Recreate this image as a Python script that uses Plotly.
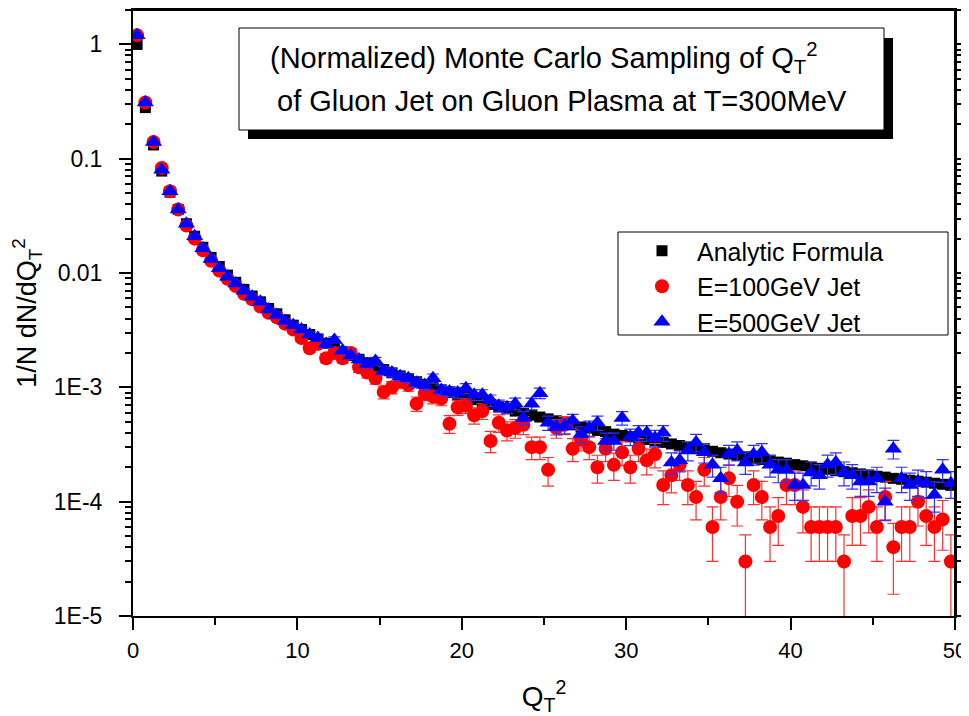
import plotly.graph_objects as go
import numpy as np

# bin centres of Q_T^2
q2 = [0.25 + 0.5 * i for i in range(100)]

analytic = [
    1.0, 0.28, 0.132, 0.078, 0.051, 0.036, 0.027, 0.021, 0.0168, 0.0137,
    0.0114, 0.0096, 0.0083, 0.0072, 0.0063, 0.0056, 0.0049, 0.0044, 0.0039, 0.0035,
    0.0032, 0.0029, 0.00265, 0.00243, 0.00223, 0.00205, 0.0019, 0.00176, 0.00164, 0.00153,
    0.00143, 0.00134, 0.00126, 0.00119, 0.00112, 0.00106, 0.0010, 0.00095, 0.0009, 0.00086,
    0.00082, 0.00078, 0.00074, 0.00071, 0.00068, 0.00065, 0.00062, 0.00059, 0.00057, 0.00055,
    0.00053, 0.00051, 0.00049, 0.00047, 0.00045, 0.00044, 0.00042, 0.00041, 0.00039, 0.00038,
    0.00037, 0.00036, 0.00035, 0.00034, 0.00033, 0.00032, 0.00031, 0.000300, 0.000292, 0.000284,
    0.000276, 0.000268, 0.000261, 0.000254, 0.000247, 0.000240, 0.000234, 0.000228, 0.000222, 0.000217,
    0.000211, 0.000206, 0.000201, 0.000196, 0.000192, 0.000187, 0.000183, 0.000179, 0.000175, 0.000171,
    0.000167, 0.000164, 0.000160, 0.000157, 0.000154, 0.000151, 0.000148, 0.000145, 0.000142, 0.000139,
]

jet100 = [
    1.2, 0.31, 0.14, 0.083, 0.052, 0.036, 0.026, 0.020, 0.0158, 0.0128,
    0.0105, 0.0089, 0.0077, 0.0066, 0.0059, 0.0051, 0.0045, 0.0041, 0.0036, 0.0032,
    0.0027, 0.0022, 0.0024, 0.0018, 0.0020, 0.0018, 0.0020, 0.0015, 0.00135, 0.0012,
    0.00091, 0.0010, 0.00112, 0.00105, 0.00072, 0.00088, 0.00083, 0.00080, 0.00048, 0.00067,
    0.00069, 0.00057, 0.00062, 0.00034, 0.00049, 0.00042, 0.00044, 0.00047, 0.00030, 0.00030,
    0.00019, 0.00044, 0.00047, 0.00029, 0.00035, 0.00030, 0.00020, 0.00029, 0.00021, 0.00027,
    0.00020, 0.00029, 0.00023, 0.00026, 0.00014, 0.00017, 0.00021, 0.00014, 0.00011, 0.00019,
    0.00006, 0.00011, 0.00016, 0.00010, 0.00003, 0.00014, 0.00011, 0.00006, 0.000075, 0.00014,
    0.00014, 0.00009, 0.00006, 0.00006, 0.00006, 0.00006, 0.00003, 0.000075, 0.000075, 0.00009,
    0.00006, 0.00011, 0.00004, 0.00006, 0.00006, 0.00010, 0.000075, 0.00006, 0.00007, 0.00003,
]

jet500 = [
    1.2, 0.31, 0.14, 0.08, 0.052, 0.036, 0.027, 0.021, 0.0165, 0.0133,
    0.011, 0.0093, 0.0081, 0.007, 0.0062, 0.0056, 0.0048, 0.0043, 0.0038, 0.0035,
    0.0032, 0.0029, 0.0027, 0.0024, 0.0026, 0.0021, 0.0019, 0.00175, 0.0016, 0.0017,
    0.0014, 0.00135, 0.00125, 0.0012, 0.0011, 0.00105, 0.0012, 0.00095, 0.00092, 0.0009,
    0.00098, 0.00086, 0.00086, 0.00077, 0.00069, 0.00067, 0.00072, 0.00054, 0.00072, 0.00089,
    0.00049, 0.00045, 0.00046, 0.00051, 0.00039, 0.00044, 0.00049, 0.00034, 0.00034, 0.00054,
    0.00037, 0.00040, 0.00040, 0.00036, 0.00040, 0.00022, 0.00023, 0.00028, 0.00033, 0.00027,
    0.00021, 0.00016, 0.00026, 0.00028, 0.00022, 0.00026, 0.00027, 0.00021, 0.00019, 0.00019,
    0.00014, 0.00014, 0.00018, 0.00017, 0.00021, 0.00022, 0.00018, 0.00017, 0.00015, 0.00015,
    0.00016, 0.00010, 0.00029, 0.00016, 0.00014, 0.00015, 0.000145, 0.000115, 0.00019, 0.000145,
]

# Poisson-like statistical weight of one sampled count per bin
unit100 = 1.5e-5
unit500 = 1.0e-5

ytick_vals = [1e-5, 1e-4, 1e-3, 1e-2, 1e-1, 1]
ytick_text = ["1E-5", "1E-4", "1E-3", "0.01", "0.1", "1"]

err100 = list(np.sqrt(np.array(jet100) * unit100))
err500 = list(np.sqrt(np.array(jet500) * unit500))

FONT = "Arial, Liberation Sans, sans-serif"

fig = go.Figure()
fig.add_trace(go.Scatter(
    x=q2, y=analytic, mode="markers", name="Analytic Formula",
    legendgroup="a",
    marker=dict(symbol="square", size=11, color="black", line=dict(width=0)),
))
fig.add_trace(go.Scatter(
    x=q2, y=jet100, mode="markers", name="E=100GeV Jet",
    legendgroup="b",
    marker=dict(symbol="circle", size=14, color="#ff0000", line=dict(width=0)),
    error_y=dict(type="data", array=err100, color="#ff3030", thickness=1.2, width=6),
))
fig.add_trace(go.Scatter(
    x=q2, y=jet500, mode="markers", name="E=500GeV Jet",
    legendgroup="c",
    marker=dict(symbol="triangle-up", size=15, color="#0000ff", line=dict(width=0)),
    error_y=dict(type="data", array=err500, color="#3030ff", thickness=1.2, width=6),
))

minor_y = [m * 10.0 ** e for e in range(-5, 1) for m in range(2, 10)]

axis_common = dict(showgrid=False, zeroline=False, showline=True, linecolor="black",
                   linewidth=2, tickcolor="black", tickwidth=2, automargin=False, mirror="ticks")

# page body adds an 8px offset; plot area sits at screen x 133..955, y 10..616
fig.update_layout(
    width=961, height=708,
    margin=dict(l=125, r=14, t=2, b=100, autoexpand=False),
    paper_bgcolor="white", plot_bgcolor="white",
    font=dict(family=FONT, color="black"),
    showlegend=True,
    legend=dict(x=(627 - 133) / 822, y=(616 - 228) / 606, xanchor="left", yanchor="top",
                bgcolor="rgba(0,0,0,0)", borderwidth=0, font=dict(size=25, family=FONT),
                itemwidth=60, tracegroupgap=0),
    xaxis=dict(range=[0, 50], dtick=10, ticks="outside", ticklen=12,
               tickfont=dict(size=22, family=FONT), ticklabelstandoff=2,
               ticklabeloverflow="allow",
               minor=dict(dtick=5, ticks="outside", ticklen=7, tickcolor="black", tickwidth=2),
               title=dict(text="Q<sub>T</sub><sup>2</sup>", font=dict(size=28, family=FONT), standoff=34),
               **axis_common),
    yaxis=dict(type="log", range=[-5, np.log10(2.0)], tickmode="array",
               tickvals=ytick_vals, ticktext=ytick_text, ticks="outside", ticklen=12, ticklabelstandoff=12,
               tickfont=dict(size=23, family=FONT),
               minor=dict(tickmode="array", tickvals=minor_y, ticks="outside", ticklen=6,
                          tickcolor="black", tickwidth=2),
               title=dict(text="1/N dN/dQ<sub>T</sub><sup>2</sup>", font=dict(size=27, family=FONT), standoff=14),
               **axis_common),
)

def px_x(p):
    return (p - 133) / 822

def px_y(p):
    return (616 - p) / 606

shapes = [
    # top and right frame lines
    dict(type="line", xref="paper", yref="paper", x0=0, x1=1, y0=1, y1=1,
         line=dict(color="black", width=2), layer="above"),
    dict(type="line", xref="paper", yref="paper", x0=1, x1=1, y0=0, y1=1,
         line=dict(color="black", width=2), layer="above"),
    # title box shadow and box
    dict(type="rect", xref="paper", yref="paper", x0=px_x(248), x1=px_x(893), y0=px_y(139), y1=px_y(38),
         fillcolor="black", line=dict(width=0), layer="above"),
    dict(type="rect", xref="paper", yref="paper", x0=px_x(239), x1=px_x(884), y0=px_y(130), y1=px_y(28),
         fillcolor="white", line=dict(color="black", width=1), layer="above"),
    # legend frame
    dict(type="rect", xref="paper", yref="paper", x0=px_x(618), x1=px_x(948), y0=px_y(335), y1=px_y(232),
         fillcolor="white", line=dict(color="black", width=1), layer="above"),
]
fig.update_layout(shapes=shapes)

fig.add_annotation(xref="paper", yref="paper", x=px_x(543), y=px_y(58), xanchor="center", yanchor="middle",
                   text="(Normalized) Monte Carlo Sampling of Q<sub>T</sub><sup>2</sup>", showarrow=False,
                   font=dict(size=29, family=FONT, color="black"))
fig.add_annotation(xref="paper", yref="paper", x=px_x(562), y=px_y(101), xanchor="center", yanchor="middle",
                   text="of Gluon Jet on Gluon Plasma at T=300MeV", showarrow=False,
                   font=dict(size=29, family=FONT, color="black"))

fig.write_html("out.html")
